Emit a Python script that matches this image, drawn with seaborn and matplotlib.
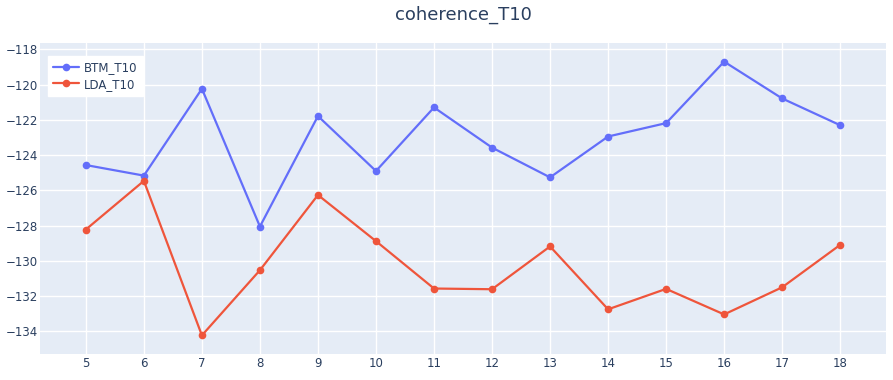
import pandas as pd
import matplotlib.pyplot as plt
import seaborn as sns

# topic counts on the x axis
topics = [5, 6, 7, 8, 9, 10, 11, 12, 13, 14, 15, 16, 17, 18]

# coherence scores
btm_t10 = [-124.56, -125.16, -120.23, -128.05, -121.78, -124.90, -121.29,
           -123.57, -125.26, -122.94, -122.18, -118.69, -120.78, -122.30]
lda_t10 = [-128.22, -125.46, -134.23, -130.53, -126.26, -128.88, -131.57,
           -131.61, -129.18, -132.75, -131.59, -133.04, -131.50, -129.09]

series_names = ['BTM_T10', 'LDA_T10']
colors = ['#636efa', '#EF553B']

df = pd.DataFrame({
    'topics': topics * 2,
    'coherence': btm_t10 + lda_t10,
    'model': [series_names[0]] * len(topics) + [series_names[1]] * len(topics),
})

sns.set_style('darkgrid', {'axes.facecolor': '#E5ECF6', 'grid.color': 'white'})
plt.rcParams['font.family'] = ['DejaVu Sans']

fig = plt.figure(figsize=(8.93, 3.8), dpi=100)
ax = fig.add_axes([0.0448, 0.0692, 0.9474, 0.8168])

sns.lineplot(data=df, x='topics', y='coherence', hue='model', palette=colors,
             marker='o', markersize=5.5, markeredgewidth=0, linewidth=1.6, ax=ax)

ax.set_xlim(4.21, 18.79)
ax.set_ylim(-135.27, -117.65)
ax.set_xticks(topics)
ax.set_yticks(range(-134, -117, 2))
ax.grid(True, color='white', linewidth=1)
ax.tick_params(length=0, labelsize=8.5, colors='#2a3f5f')
ax.tick_params(axis='y', pad=1.5)
ax.tick_params(axis='x', pad=2.5)
for s in ax.spines.values():
    s.set_visible(False)
ax.set_xlabel('')
ax.set_ylabel('')

fig.suptitle('coherence_T10', x=0.519, y=0.985, fontsize=13, color='#2a3f5f')

leg = ax.legend(loc='upper left', bbox_to_anchor=(0.0095, 0.96), frameon=True,
                fontsize=8.5, fancybox=False, borderpad=0.45, labelspacing=0.3,
                handlelength=2.2, handletextpad=0.4, borderaxespad=0)
leg.get_frame().set_facecolor('white')
leg.get_frame().set_edgecolor('white')
leg.get_frame().set_alpha(1)
for t in leg.get_texts():
    t.set_color('#2a3f5f')

fig.savefig('out.png', dpi=100)
